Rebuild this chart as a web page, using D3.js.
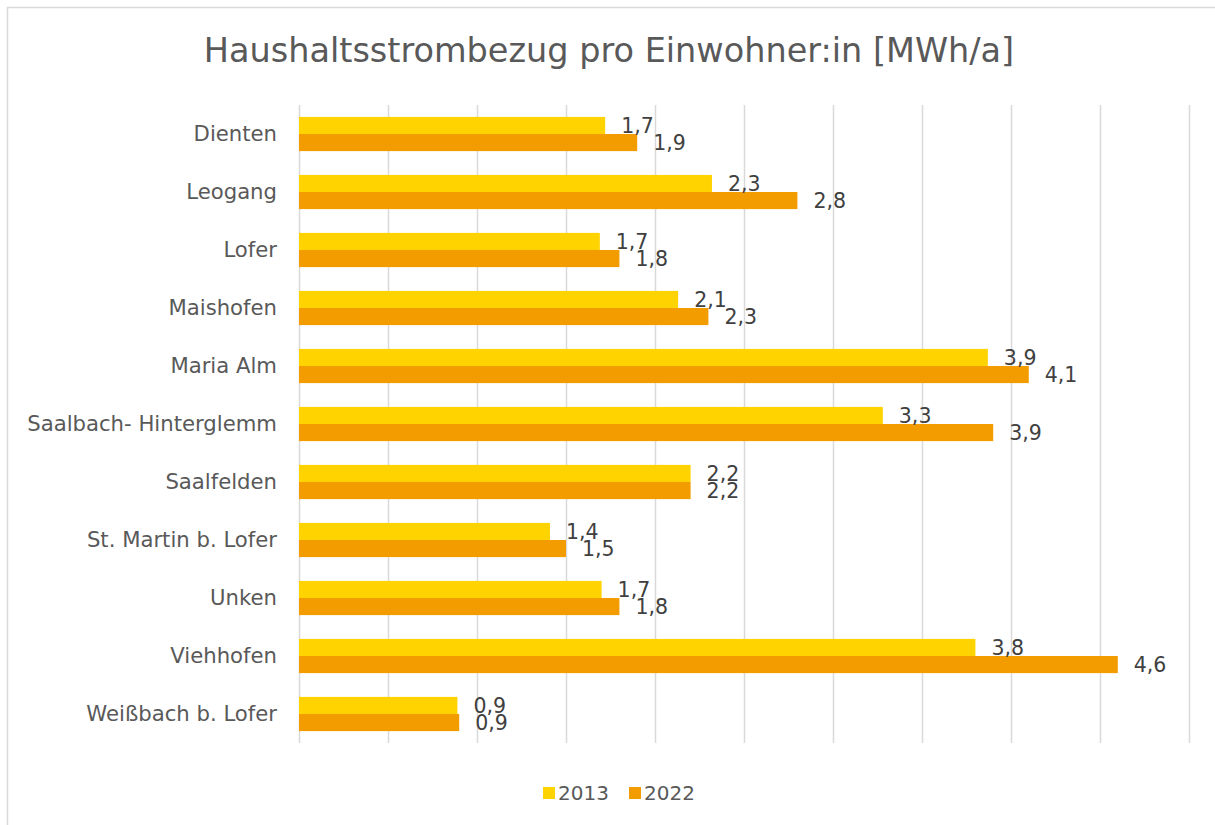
<!DOCTYPE html>
<html><head><meta charset="utf-8">
<script src="https://cdn.jsdelivr.net/npm/d3@7"></script>
<style>
html,body{margin:0;padding:0;background:#fff;}
text{font-family:"DejaVu Sans",sans-serif;}
</style></head>
<body>
<svg id="c" width="1215" height="825"></svg>
<script>
const categories = ["Dienten","Leogang","Lofer","Maishofen","Maria Alm","Saalbach- Hinterglemm","Saalfelden","St. Martin b. Lofer","Unken","Viehhofen","Weißbach b. Lofer"];
const values2013 = [1.72, 2.32, 1.69, 2.13, 3.87, 3.28, 2.20, 1.41, 1.70, 3.80, 0.89];
const values2022 = [1.90, 2.80, 1.80, 2.30, 4.10, 3.90, 2.20, 1.50, 1.80, 4.60, 0.90];
const seriesNames = ["2013","2022"];
const colors = ["#FFD300","#F39C00"];
const xTicks = [0,0.5,1,1.5,2,2.5,3,3.5,4,4.5,5];
const title = "Haushaltsstrombezug pro Einwohner:in [MWh/a]";

const svg = d3.select("#c");
svg.append("rect").attr("x",7.5).attr("y",7.5).attr("width",1220).attr("height",830)
  .attr("fill","#fff").attr("stroke","#d9d9d9").attr("stroke-width",1.5);

const x = d3.scaleLinear().domain([0,5]).range([299,1189]);
const y = d3.scaleBand().domain(categories).range([105,743]).paddingInner(0.41).paddingOuter(0.205);
const ys = d3.scaleBand().domain(seriesNames).range([0,y.bandwidth()]);

svg.append("text").attr("x",609).attr("y",62).attr("text-anchor","middle")
  .attr("font-size",33.5).attr("fill","#595959").text(title);

// gridlines
svg.append("g").attr("transform","translate(0,743)")
  .call(d3.axisBottom(x).tickValues(xTicks).tickSize(-638).tickFormat(""))
  .call(g=>g.select(".domain").remove())
  .call(g=>g.selectAll(".tick line").attr("stroke","#d9d9d9").attr("stroke-width",1.5));

// category axis
svg.append("g").attr("transform","translate(299,0)")
  .call(d3.axisLeft(y).tickSize(0).tickPadding(22))
  .call(g=>g.select(".domain").remove())
  .call(g=>g.selectAll("text").attr("font-size",21.2).attr("fill","#595959")
    .style("font-family",'"DejaVu Sans",sans-serif'));

const data = categories.map((c,i)=>({c, v:[values2013[i], values2022[i]]}));
const fmt = v => d3.format(".1f")(v).replace(".",",");

const grp = svg.append("g").selectAll("g").data(data).join("g")
  .attr("transform",d=>`translate(0,${y(d.c)})`);
seriesNames.forEach((s,si)=>{
  grp.append("rect").attr("x",x(0)).attr("y",ys(s)).attr("height",ys.bandwidth())
    .attr("width",d=>x(d.v[si])-x(0)).attr("fill",colors[si]);
});
seriesNames.forEach((s,si)=>{
  grp.append("text").attr("x",d=>x(d.v[si])+16).attr("y",ys(s)+ys.bandwidth()/2)
    .attr("dy","0.36em").attr("font-size",20.5).attr("fill","#404040").text(d=>fmt(d.v[si]));
});

// legend
const lg = svg.append("g").attr("transform","translate(543,787)");
const offs = [0,86];
seriesNames.forEach((s,i)=>{
  lg.append("rect").attr("x",offs[i]).attr("y",0).attr("width",12).attr("height",12).attr("fill",colors[i]);
  lg.append("text").attr("x",offs[i]+15).attr("y",6).attr("dy","0.36em").attr("font-size",20).attr("fill","#595959").text(s);
});
</script>
</body></html>
